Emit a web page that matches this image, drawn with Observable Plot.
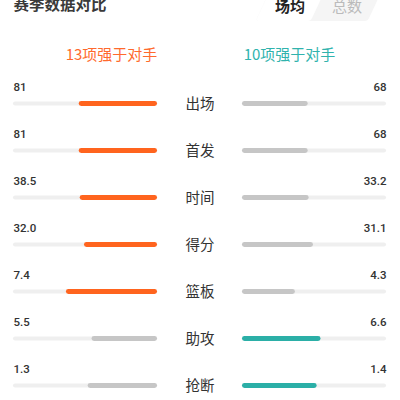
<!DOCTYPE html>
<html>
<head>
<meta charset="utf-8">
<script src="https://cdn.jsdelivr.net/npm/d3@7"></script>
<script src="https://cdn.jsdelivr.net/npm/@observablehq/plot@0.6"></script>
<style>
  html, body { margin: 0; padding: 0; background: #fff; }
  #wrap { position: relative; width: 400px; height: 400px; overflow: hidden; }
  #wrap svg { display: block; }
  .tabbg { position: absolute; top: -6px; left: 262px; width: 112px; height: 27px; background: #f5f5f5; transform: skewX(-25deg); border-radius: 3px; }
  .tabsel { position: absolute; top: -6px; left: 262px; width: 55px; height: 27px; background: #fff; transform: skewX(-25deg); border-radius: 3px; }
  .tab { position: absolute; top: -3px; font-family: "Noto Sans CJK SC", sans-serif; font-size: 15px; line-height: 18px; }
</style>
</head>
<body>
<div id="wrap">
  <div class="tabbg"></div>
  <div class="tabsel"></div>
  <div class="tab" id="t1" style="left:275px;color:#222;font-weight:bold;"></div>
  <div class="tab" id="t2" style="left:332px;color:#bbb;"></div>
</div>
<script>
const title = "赛季数据对比";
const tabs = ["场均", "总数"];
const leftHeader = "13项强于对手";
const rightHeader = "10项强于对手";
const categories = ["出场", "首发", "时间", "得分", "篮板", "助攻", "抢断"];
const leftValues = [81, 81, 38.5, 32.0, 7.4, 5.5, 1.3];
const rightValues = [68, 68, 33.2, 31.1, 4.3, 6.6, 1.4];
const leftLabels = ["81", "81", "38.5", "32.0", "7.4", "5.5", "1.3"];
const rightLabels = ["68", "68", "33.2", "31.1", "4.3", "6.6", "1.4"];

const ORANGE = "#ff641e";
const TEAL = "#2bafa7";
const LOSE = "#c6c6c6";
const TRACK = "#efefef";
const G = 0.295; // half-gap between the two tracks, in track units

const rows = categories.map((c, i) => ({
  cat: c, l: leftValues[i], r: rightValues[i], lt: leftLabels[i], rt: rightLabels[i]
}));

document.getElementById("t1").textContent = tabs[0];
document.getElementById("t2").textContent = tabs[1];

const numFont = { fontFamily: "Roboto, sans-serif", fontSize: 11.5, fontWeight: 500, fill: "#333" };

const chart = Plot.plot({
  width: 400,
  height: 400,
  margin: 0,
  style: { background: "transparent", overflow: "visible" },
  x: { domain: [-1 - G, 1 + G], range: [13, 386], axis: null },
  y: { type: "band", domain: categories, range: [79.75, 409.55], padding: 0, axis: null },
  color: { type: "identity" },
  marks: [
    // tracks
    Plot.barX(rows, { y: "cat", x1: () => -1 - G, x2: () => -G, fill: TRACK, insetTop: 21.6, insetBottom: 21.6, rx: 2 }),
    Plot.barX(rows, { y: "cat", x1: () => G, x2: () => 1 + G, fill: TRACK, insetTop: 21.6, insetBottom: 21.6, rx: 2 }),
    // value bars
    Plot.barX(rows, {
      y: "cat",
      x1: d => -G - d.l / (d.l + d.r),
      x2: () => -G,
      fill: d => d.l > d.r ? ORANGE : LOSE,
      insetTop: 21.05, insetBottom: 21.05, rx: 2.5
    }),
    Plot.barX(rows, {
      y: "cat",
      x1: () => G,
      x2: d => G + d.r / (d.l + d.r),
      fill: d => d.r > d.l ? TEAL : LOSE,
      insetTop: 21.05, insetBottom: 21.05, rx: 2.5
    }),
    // value labels
    Plot.text(rows, { x: () => -1 - G, y: "cat", text: "lt", textAnchor: "start", dy: -16.7, ...numFont }),
    Plot.text(rows, { x: () => 1 + G, y: "cat", text: "rt", textAnchor: "end", dy: -16.7, ...numFont }),
    // category labels
    Plot.text(rows, { x: () => 0, y: "cat", text: "cat", fontSize: 14.5, fill: "#333", fontFamily: "'Noto Sans CJK SC', sans-serif" }),
    // headers
    Plot.text([title], { frameAnchor: "top-left", dx: 13, dy: 5, textAnchor: "start", lineAnchor: "middle", fontSize: 15.5, fontWeight: "bold", fill: "#3a3a3a", fontFamily: "'Noto Sans CJK SC', sans-serif" }),
    Plot.text([leftHeader], { frameAnchor: "top", dx: -89, dy: 55, lineAnchor: "middle", fontSize: 15, fill: "#ff6a2d", fontFamily: "'Noto Sans CJK SC', sans-serif" }),
    Plot.text([rightHeader], { frameAnchor: "top", dx: 89, dy: 55, lineAnchor: "middle", fontSize: 15, fill: "#30b3ad", fontFamily: "'Noto Sans CJK SC', sans-serif" })
  ]
});
document.getElementById("wrap").prepend(chart);
</script>
</body>
</html>
